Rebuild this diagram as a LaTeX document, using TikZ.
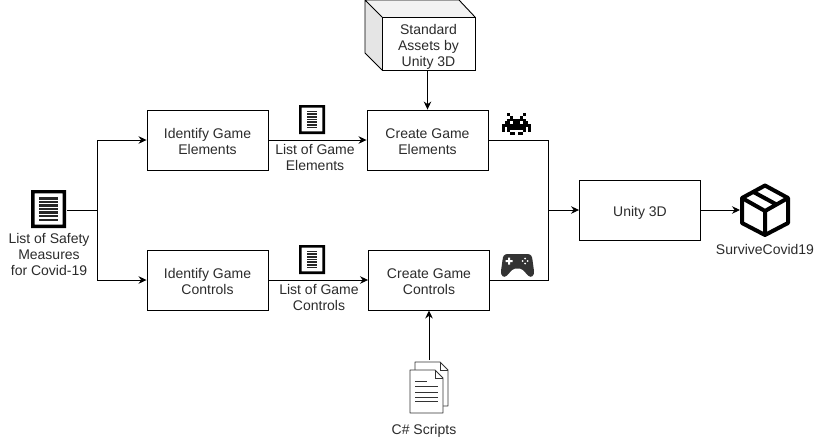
\documentclass[tikz,border=0pt]{standalone}
\usepackage{fontspec}
\setmainfont{Liberation Sans}
\usetikzlibrary{arrows.meta}
\definecolor{icondark}{HTML}{333333}
\definecolor{txtgray}{HTML}{2B2B2B}

\begin{document}
\begin{tikzpicture}[x=1pt, y=-1pt,
                    every node/.style={text=txtgray, font=\fontsize{14}{16}\selectfont, align=center},
                    stepbox/.style={draw, line width=0.9pt, minimum width=121pt, minimum height=60pt, inner sep=0pt, text height=28pt, text depth=0pt},
                    caption/.style={inner sep=0pt},
                    flow/.style={line width=0.9pt, -{Stealth[length=8pt, width=7.5pt]}},
                    wire/.style={line width=0.9pt},
                    docicon/.pic={
                        \fill[black, even odd rule] (-0.5,-0.5) rectangle (0.5,0.5) (-0.4,-0.41) rectangle (0.4,0.41);
                        \foreach \k in {-0.28,-0.187,-0.093,0,0.093,0.187,0.28}
                            \fill[black!85] (-#1,\k-0.03) rectangle (#1,\k+0.03);
                    }
                    ]
    \useasboundingbox (0,0) rectangle (821,440);

    % process boxes
    \node[stepbox] (idelem) at (207.5,140) {Identify Game\\Elements};
    \node[stepbox] (idctrl) at (207.5,280) {Identify Game\\Controls};
    \node[stepbox] (mkelem) at (427.5,140) {Create Game\\Elements};
    \node[stepbox] (mkctrl) at (429,280) {Create Game\\Controls};
    \node[stepbox, text height=12pt] (unity) at (640,210) {Unity 3D};

    % captions
    \node[caption] (safetytxt) at (49,254.5) {List of Safety\\Measures\\for Covid-19};
    \node[caption] (elemtxt) at (315,157.5) {List of Game\\Elements};
    \node[caption] (ctrltxt) at (319,297.5) {List of Game\\Controls};
    \node[caption] (scripttxt) at (424,431) {C\# Scripts};
    \node[caption] (gametxt) at (765,249) {SurviveCovid19};

    % cube with the assets
    \fill[gray!20] (365,0)--(382,17)--(382,70)--(365,53)--cycle;
    \fill[gray!10] (365,0)--(459,0)--(475,17)--(382,17)--cycle;
    \draw[wire, line join=round] (382,17)--(365,0)--(365,53)--(382,70) (365,0)--(459,0)--(475,17);
    \node[draw, line width=0.9pt, fill=white, minimum width=93pt, minimum height=53pt, inner sep=0pt, text height=46pt, text depth=0pt] (assets) at (428.5,43.5) {Standard\\Assets by\\Unity 3D};

    % document icons
    \pic[xscale=35, yscale=38] at (48.5,209) {docicon=0.28};
    \pic[xscale=26, yscale=29] at (312,119.5) {docicon=0.2};
    \pic[xscale=26, yscale=29] at (312,259.5) {docicon=0.2};

    % invader
    \foreach \xa/\xb/\ya in {2/3/0, 8/9/0, 3/4/1, 7/8/1, 2/9/2, 1/3/3, 4/7/3, 8/10/3, 0/11/4, 0/1/5, 2/9/5, 10/11/5, 0/1/6, 2/3/6, 8/9/6, 10/11/6, 3/5/7, 6/8/7}
        \fill[black] (502+2.64*\xa,113+2.75*\ya) rectangle (502+2.64*\xb,113+2.75*\ya+2.75);

    % gamepad
    \fill[icondark] (508,254) -- (527,254) .. controls (531,254) and (532,256) .. (532.5,260)
        -- (534,271) .. controls (534.5,276) and (531,278.5) .. (528,275.5)
        -- (523,270) .. controls (522,269) and (521.5,268.5) .. (520,268.5)
        -- (515,268.5) .. controls (513.5,268.5) and (513,269) .. (512,270)
        -- (507,275.5) .. controls (504,278.5) and (500.5,276) .. (501,271)
        -- (502.5,260) .. controls (503,256) and (504,254) .. (508,254) -- cycle;
    \fill[white] (505.5,260) rectangle (512.5,262) (508,257.5) rectangle (510,264.5);
    \foreach \dx/\dy in {0/-2.5, 0/2.5, -2.5/0, 2.5/0}
        \fill[white] (525+\dx,261+\dy) circle (1pt);

    % script pages
    \draw[line width=0.9pt, icondark, line join=round] (415,370)--(415,362)--(440,362)--(448,370)--(448,406)--(443,406);
    \draw[line width=0.9pt, icondark] (440,362)--(440,370)--(448,370);
    \draw[line width=0.9pt, icondark, fill=white, line join=round] (410,370)--(435,370)--(443,378)--(443,413)--(410,413)--cycle;
    \draw[line width=0.9pt, icondark] (435,370)--(435,378)--(443,378);
    \foreach \ly/\lx in {381/427, 386/438, 392/438, 397/438, 401/438}
        \draw[line width=0.9pt, icondark] (415,\ly)--(\lx,\ly);

    % parcel
    \draw[line width=4pt, black, line join=round] (765,185.5)--(788,198)--(788,223)--(765,235)--(742,223)--(742,198)--cycle;
    \draw[line width=4pt, black, line join=round] (742,198)--(765,211)--(788,198) (765,211)--(765,235) (753.5,192)--(776.5,204.5);

    % free ends of the connectors
    \coordinate (safetyout) at (67,210);
    \coordinate (fork) at (97,210);
    \coordinate (join) at (548,210);
    \coordinate (parcel) at (740,210);
    \coordinate (scriptout) at (429,360);

    % connectors
    \draw[wire] (safetyout) -- (fork);
    \draw[flow] (fork) |- (idelem.west);
    \draw[flow] (fork) |- (idctrl.west);
    \draw[flow] (idelem.east) -- (mkelem.west);
    \draw[flow] (idctrl.east) -- (mkctrl.west);
    \draw[flow] (assets.south -| mkelem.north) -- (mkelem.north);
    \draw[flow] (scriptout) -- (mkctrl.south);
    \draw[wire] (mkelem.east) -| (join);
    \draw[wire] (mkctrl.east) -| (join);
    \draw[flow] (join) -- (unity.west);
    \draw[flow] (unity.east) -- (parcel);
\end{tikzpicture}
\end{document}
